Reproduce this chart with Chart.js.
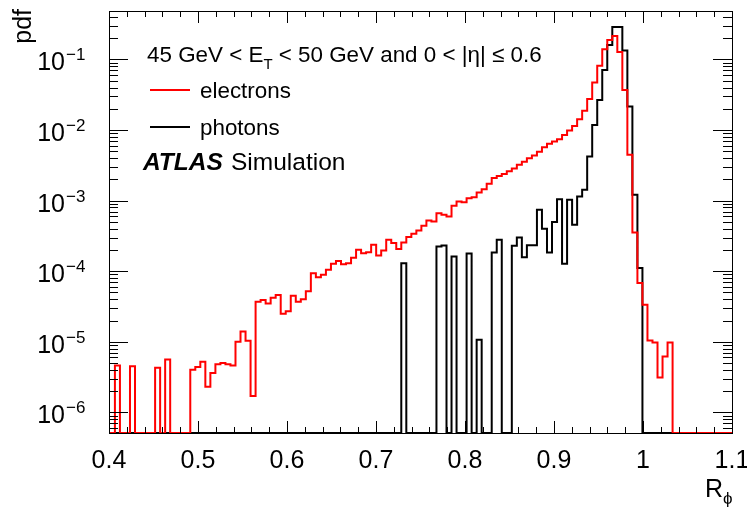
<!DOCTYPE html>
<html>
<head>
<meta charset="utf-8">
<script src="https://cdn.jsdelivr.net/npm/chart.js@4.4.0/dist/chart.umd.min.js"></script>
<style>
  html, body { margin: 0; padding: 0; background: #fff; }
  #wrap { width: 747px; height: 508px; }
</style>
</head>
<body>
<div id="wrap"><canvas id="c" width="747" height="508"></canvas></div>
<script>
// histogram binning (R_phi)
const binLow = 0.401;
const binWidth = 0.005645;
const nBins = 124;

// electrons, pdf per bin
const electrons = [
  0, 4.6e-6, 0, 0, 4.5e-6, 0, 0, 0, 0, 4.3e-6,
  0, 5.6e-6, 0, 0, 0, 0, 4.0e-6, 4.4e-6, 5.2e-6, 2.3e-6,
  3.6e-6, 4.8e-6, 5.0e-6, 4.8e-6, 4.6e-6, 1.0e-5, 1.4e-5, 1.03e-5, 1.7e-6, 3.7e-5,
  3.9e-5, 3.5e-5, 4.2e-5, 4.6e-5, 2.5e-5, 2.7e-5, 4.5e-5, 3.7e-5, 4.0e-5, 5.2e-5,
  9.35e-5, 8.2e-5, 8.9e-5, 1.05e-4, 1.27e-4, 1.40e-4, 1.25e-4, 1.30e-4, 1.55e-4, 2.01e-4,
  1.80e-4, 1.86e-4, 2.37e-4, 1.67e-4, 1.97e-4, 2.79e-4, 2.50e-4, 2.06e-4, 2.55e-4, 3.04e-4,
  3.39e-4, 3.77e-4, 4.40e-4, 5.22e-4, 5.06e-4, 6.65e-4, 6.29e-4, 5.96e-4, 8.44e-4, 9.71e-4,
  9.52e-4, 1.08e-3, 1.12e-3, 1.30e-3, 1.45e-3, 1.73e-3, 2.10e-3, 2.24e-3, 2.39e-3, 2.60e-3,
  2.86e-3, 3.21e-3, 3.54e-3, 3.99e-3, 4.35e-3, 4.91e-3, 5.72e-3, 6.37e-3, 6.86e-3, 7.41e-3,
  8.53e-3, 9.82e-3, 1.145e-2, 1.42e-2, 1.88e-2, 2.76e-2, 4.70e-2, 8.17e-2, 0.139, 0.189,
  0.215, 0.128, 3.70e-2, 4.45e-3, 3.53e-4, 6.79e-5, 3.35e-5, 1.04e-5, 9.8e-6, 3.13e-6,
  6.2e-6, 9.8e-6, 0, 0, 0, 0, 0, 0, 0, 0,
  0, 0, 0, 0
];

// photons, pdf per bin
const photons = [
  0, 0, 0, 0, 0, 0, 0, 0, 0, 0,
  0, 0, 0, 0, 0, 0, 0, 0, 0, 0,
  0, 0, 0, 0, 0, 0, 0, 0, 0, 0,
  0, 0, 0, 0, 0, 0, 0, 0, 0, 0,
  0, 0, 0, 0, 0, 0, 0, 0, 0, 0,
  0, 0, 0, 0, 0, 0, 0, 0, 1.30e-4, 0,
  0, 0, 0, 0, 0, 2.24e-4, 2.31e-4, 0, 1.62e-4, 0,
  0, 1.78e-4, 0, 1.07e-5, 0, 0, 1.84e-4, 2.79e-4, 0, 0,
  2.29e-4, 3.00e-4, 1.58e-4, 2.34e-4, 2.34e-4, 7.40e-4, 3.99e-4, 1.84e-4, 4.96e-4, 1.05e-3,
  1.27e-4, 1.03e-3, 4.54e-4, 1.14e-3, 1.42e-3, 4.21e-3, 1.18e-2, 2.67e-2, 7.10e-2, 0.160,
  0.288, 0.288, 0.134, 2.15e-2, 1.21e-3, 1.11e-4, 0, 0, 0, 0,
  0, 0, 0, 0, 0, 0, 0, 0, 0, 0,
  0, 0, 0, 0
];

const xTickLabels = ['0.4', '0.5', '0.6', '0.7', '0.8', '0.9', '1', '1.1'];
const yDecades = [-1, -2, -3, -4, -5, -6];

const xMin = 0.4, xMax = 1.1;
const yMin = 5.1e-7, yMax = 0.486;

// turn bin contents into step points (left edges + closing edge)
function histPoints(vals) {
  const pts = [];
  for (let i = 0; i < vals.length; i++) {
    pts.push({ x: binLow + i * binWidth, y: vals[i] > 0 ? vals[i] : yMin });
  }
  const last = vals[vals.length - 1];
  pts.push({ x: binLow + vals.length * binWidth, y: last > 0 ? last : yMin });
  return pts;
}

const FONT = '"Liberation Sans", Arial, Helvetica, sans-serif';

const rootFrame = {
  id: 'rootFrame',
  afterDraw(chart) {
    const ctx = chart.ctx;
    const a = chart.chartArea;
    const xs = chart.scales.x, ys = chart.scales.y;
    ctx.save();
    ctx.strokeStyle = '#000';
    ctx.fillStyle = '#000';
    ctx.lineWidth = 1;

    // frame
    ctx.strokeRect(Math.round(a.left) + 0.5, Math.round(a.top) + 0.5,
      Math.round(a.right - a.left), Math.round(a.bottom - a.top));

    // x ticks (bottom and top, inside)
    ctx.beginPath();
    for (let k = 0; k <= 35; k++) {
      const v = xMin + k * 0.02;
      const px = Math.round(xs.getPixelForValue(v)) + 0.5;
      const len = (k % 5 === 0) ? 12 : 6;
      ctx.moveTo(px, a.bottom); ctx.lineTo(px, a.bottom - len);
      ctx.moveTo(px, a.top); ctx.lineTo(px, a.top + len);
    }
    // y ticks (left and right, inside)
    for (let e = -7; e <= -1; e++) {
      for (let m = 1; m <= 9; m++) {
        const v = m * Math.pow(10, e);
        if (v < yMin || v > yMax) continue;
        const py = Math.round(ys.getPixelForValue(v)) + 0.5;
        const len = (m === 1) ? 19 : 9;
        ctx.moveTo(a.left, py); ctx.lineTo(a.left + len, py);
        ctx.moveTo(a.right, py); ctx.lineTo(a.right - len, py);
      }
    }
    ctx.stroke();

    // x tick labels
    ctx.font = '25px ' + FONT;
    ctx.textAlign = 'center';
    ctx.textBaseline = 'alphabetic';
    xTickLabels.forEach(t => {
      ctx.fillText(t, xs.getPixelForValue(parseFloat(t)), 468);
    });

    // y tick labels 10^-n
    yDecades.forEach(e => {
      const py = ys.getPixelForValue(Math.pow(10, e));
      ctx.font = '25px ' + FONT;
      ctx.textAlign = 'right';
      ctx.fillText('10', 65, py + 11);
      ctx.font = '17px ' + FONT;
      ctx.textAlign = 'left';
      ctx.fillText('\u2212' + (-e), 66, py + 1);
    });

    // axis titles
    ctx.font = '25px ' + FONT;
    ctx.save();
    ctx.translate(31, 9);
    ctx.rotate(-Math.PI / 2);
    ctx.textAlign = 'right';
    ctx.fillText('pdf', 0, 0);
    ctx.restore();
    ctx.textAlign = 'left';
    ctx.fillText('R', 705, 497);
    ctx.font = '17px ' + FONT;
    ctx.fillText('\u03d5', 723, 504);

    // legend
    ctx.font = '22.4px ' + FONT;
    let x = 147;
    const s1 = '45 GeV < E';
    ctx.fillText(s1, x, 62); x += ctx.measureText(s1).width;
    ctx.font = '15px ' + FONT;
    ctx.fillText('T', x, 69); x += ctx.measureText('T').width;
    ctx.font = '22.4px ' + FONT;
    ctx.fillText(' < 50 GeV and 0 < |\u03b7| \u2264 0.6', x, 62);

    ctx.lineWidth = 2;
    ctx.strokeStyle = '#ff0000';
    ctx.beginPath(); ctx.moveTo(150, 90); ctx.lineTo(190, 90); ctx.stroke();
    ctx.strokeStyle = '#000';
    ctx.beginPath(); ctx.moveTo(150, 127); ctx.lineTo(190, 127); ctx.stroke();
    ctx.fillText('electrons', 200, 98);
    ctx.fillText('photons', 200, 135);

    ctx.font = 'italic bold 24.5px ' + FONT;
    ctx.fillText('ATLAS', 143, 170);
    const w = ctx.measureText('ATLAS').width;
    ctx.font = '24.5px ' + FONT;
    ctx.fillText('Simulation', 231, 170);
    ctx.restore();
  }
};

new Chart(document.getElementById('c'), {
  type: 'line',
  data: {
    datasets: [
      {
        label: 'electrons',
        data: histPoints(electrons),
        borderColor: '#ff0000',
        borderWidth: 2,
        stepped: true,
        pointRadius: 0,
        fill: false
      },
      {
        label: 'photons',
        data: histPoints(photons),
        borderColor: '#000000',
        borderWidth: 2,
        stepped: true,
        pointRadius: 0,
        fill: false
      }
    ]
  },
  options: {
    responsive: false,
    animation: false,
    events: [],
    layout: { padding: { left: 109, right: 15, top: 11, bottom: 75 } },
    plugins: { legend: { display: false }, tooltip: { enabled: false } },
    scales: {
      x: { type: 'linear', min: xMin, max: xMax, display: false },
      y: { type: 'logarithmic', min: yMin, max: yMax, display: false }
    }
  },
  plugins: [rootFrame]
});
</script>
</body>
</html>
